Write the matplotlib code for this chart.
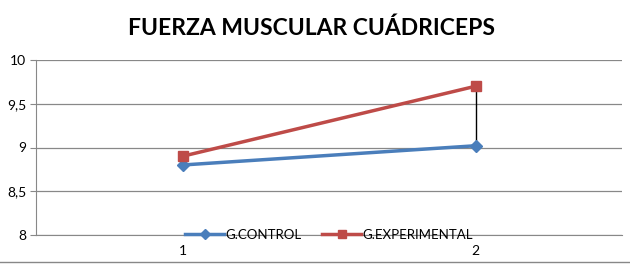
import numpy as np
import matplotlib.pyplot as plt

plt.rcParams['font.family'] = ['Lato', 'DejaVu Sans']

categorias = ['1', '2']
control = [8.8, 9.02]
experimental = [8.9, 9.7]

x = np.arange(len(categorias))

fig = plt.figure(figsize=(6.3, 2.64), dpi=100)
ax = fig.add_axes([36 / 630, 1 - 235 / 264, 586 / 630, 175 / 264])

# lineas max-min entre las dos series
for xi, c, e in zip(x, control, experimental):
    ax.plot([xi, xi], [c, e], color='black', lw=1, zorder=2)

ax.plot(x, control, color='#4a7ebb', lw=2.5, marker='D', ms=6,
        label='G.CONTROL', zorder=3)
ax.plot(x, experimental, color='#be4b48', lw=2.5, marker='s', ms=7,
        label='G.EXPERIMENTAL', zorder=4)

ax.set_xlim(-0.5, 1.5)
ax.set_ylim(8, 10)
ax.set_yticks([8, 8.5, 9, 9.5, 10])
ax.set_yticklabels(['8', '8,5', '9', '9,5', '10'])
ax.set_xticks(x)
ax.set_xticklabels(categorias)
ax.yaxis.grid(True, color='#888888', lw=0.9)
ax.set_axisbelow(True)
for s in ['top', 'right']:
    ax.spines[s].set_visible(False)
ax.spines['left'].set_color('#888888')
ax.spines['bottom'].set_color('#888888')
ax.tick_params(axis='y', length=4, color='#888888', labelsize=10, pad=3)
ax.tick_params(axis='x', length=0, labelsize=10, pad=7)

fig.suptitle('FUERZA MUSCULAR CUÁDRICEPS', fontsize=16.5, fontweight='bold',
             x=0.495, y=0.935)

leg = ax.legend(loc='center', bbox_to_anchor=(0.5, 0.0), ncol=2, frameon=False,
                fontsize=9.5, handlelength=3, columnspacing=1.5,
                handletextpad=0.1, markerscale=0.8)

fig.add_artist(plt.Line2D([0, 1], [2 / 264, 2 / 264], color='#888888', lw=1))

fig.savefig('out.png', dpi=100)
